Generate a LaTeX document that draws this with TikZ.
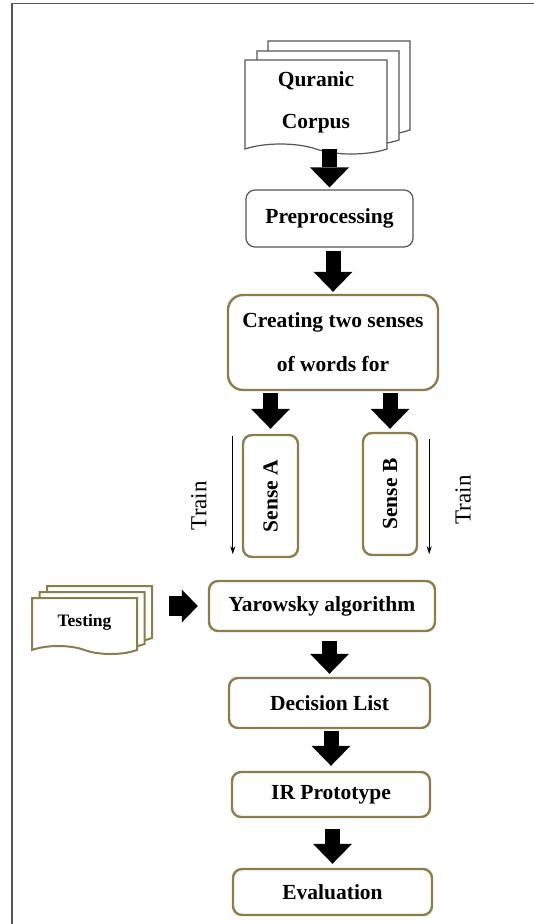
\documentclass[tikz,border=0pt]{standalone}
\usepackage{fontspec}
\setmainfont{Liberation Serif}
\usetikzlibrary{arrows.meta, shapes.symbols, shadows}

\definecolor{olivebox}{RGB}{140,126,76}
\definecolor{framegray}{RGB}{85,85,85}

\tikzset{
  every node/.style={font=\bfseries\fontsize{21.5}{25}\selectfont, inner sep=0pt},
  stepbox/.style={draw=olivebox, line width=2.4pt, rounded corners=9pt, fill=white, align=center},
  graybox/.style={draw=framegray, line width=1.2pt, rounded corners=9pt, fill=white, align=center},
  docpage/.style={tape, tape bend top=none, tape bend bottom=out and in, tape bend height=10pt,
    draw=framegray, line width=1.2pt, fill=white, align=center},
  blockarrow/.style={line width=15pt, -{Triangle[width=39pt, length=20pt, line width=0pt]}},
  sidearrow/.style={line width=20pt, -{Triangle[width=33pt, length=16pt, line width=0pt]}},
  trainline/.style={line width=0.9pt, -{Stealth[length=8pt, width=5pt]}},
  trainlabel/.style={font=\fontsize{23}{25}\selectfont, rotate=90}
}

\begin{document}
\begin{tikzpicture}[x=1pt, y=-1pt]
\useasboundingbox (0,0) rectangle (534,924);
% frame
\draw[framegray, line width=1.4pt] (534,3.5) -- (12,3.5) -- (12,924);

\node[docpage, minimum width=142pt, minimum height=94pt,
  copy shadow={shadow xshift=23pt, shadow yshift=19pt, draw=framegray},
  copy shadow={shadow xshift=12pt, shadow yshift=9pt, draw=framegray}] (corpus) at (316,102) {Quranic\\[17pt]Corpus};
\node[graybox, minimum width=167pt, minimum height=57pt] (pre) at (329.5,218.5) {Preprocessing};
\node[stepbox, rounded corners=15pt, minimum width=210pt, minimum height=95pt] (create) at (333,342.5) {Creating two senses\\[19pt]of words for};
\node[stepbox, minimum width=55pt, minimum height=122pt] (senseA) at (270.5,496) {\rotatebox{90}{Sense A}};
\node[stepbox, minimum width=54pt, minimum height=122pt] (senseB) at (390,494) {\rotatebox{90}{Sense B}};
\node[docpage, draw=olivebox, line width=2pt, tape bend height=8pt, minimum width=105pt, minimum height=56pt,
  font=\bfseries\fontsize{17.5}{20}\selectfont,
  copy shadow={shadow xshift=15pt, shadow yshift=12pt, draw=olivebox},
  copy shadow={shadow xshift=7.5pt, shadow yshift=6pt, draw=olivebox}] (testing) at (84.5,622) {Testing};
\node[stepbox, minimum width=226pt, minimum height=50pt] (yarowsky) at (322,606) {Yarowsky algorithm};
\node[stepbox, minimum width=201pt, minimum height=50pt] (decision) at (329.5,703) {Decision List};
\node[stepbox, minimum width=198pt, minimum height=45pt] (irproto) at (331,794.5) {IR Prototype};
\node[stepbox, minimum width=199pt, minimum height=46pt] (eval) at (332.5,892) {Evaluation};

% block arrows
\draw[blockarrow, shorten <=4pt, shorten >=2pt] (pre.north |- corpus.south) -- (pre.north);
\draw[blockarrow, shorten <=3pt, shorten >=2pt] (create.north |- pre.south) -- (create.north);
\draw[blockarrow, shorten <=2pt, shorten >=5pt] (senseA.north |- create.south) -- (senseA.north);
\draw[blockarrow, shorten <=2pt, shorten >=3pt] (senseB.north |- create.south) -- (senseB.north);
\draw[blockarrow, shorten <=9pt, shorten >=3pt] (decision.north |- yarowsky.south) -- (decision.north);
\draw[blockarrow, shorten <=2pt, shorten >=5pt] (irproto.north |- decision.south) -- (irproto.north);
\draw[blockarrow, shorten <=11pt, shorten >=4pt] (eval.north |- irproto.south) -- (eval.north);
\draw[sidearrow, shorten <=31pt, shorten >=10pt] (testing.east |- yarowsky.west) -- (yarowsky.west);

% train arrows
\draw[trainline] ([xshift=-9pt, yshift=-2pt]senseA.north west) -- ([xshift=-9pt, yshift=4pt]senseA.south west)
  node[xshift=-34pt, pos=0.59, trainlabel] {Train};
\draw[trainline] ([xshift=11pt, yshift=-7pt]senseB.north east) -- ([xshift=11pt, yshift=2pt]senseB.south east)
  node[xshift=34pt, pos=0.53, trainlabel] {Train};
\end{tikzpicture}
\end{document}
